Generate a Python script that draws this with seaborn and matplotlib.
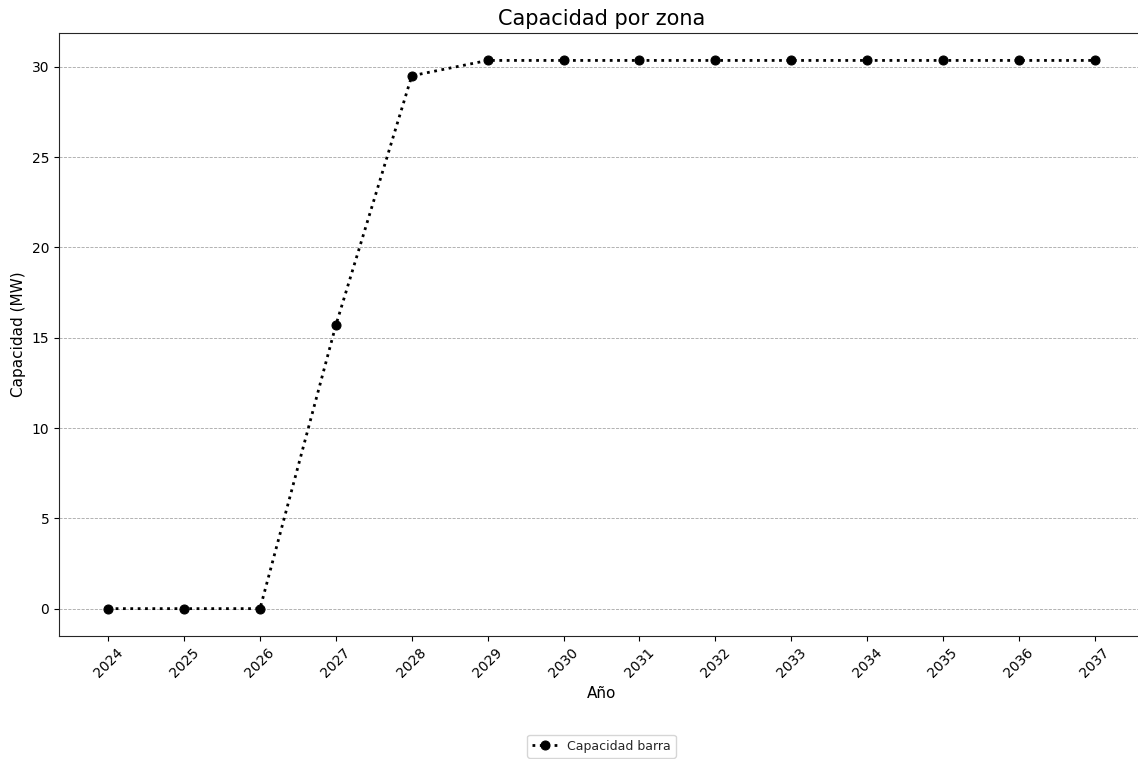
import matplotlib
matplotlib.use("Agg")
import matplotlib.pyplot as plt
import seaborn as sns
import pandas as pd

anios = [2024, 2025, 2026, 2027, 2028, 2029, 2030, 2031, 2032, 2033, 2034, 2035, 2036, 2037]
capacidad = [0, 0, 0, 15.7, 29.5, 30.35, 30.35, 30.35, 30.35, 30.35, 30.35, 30.35, 30.35, 30.35]

df = pd.DataFrame({'Año': anios, 'Capacidad': capacidad})

sns.set_style('ticks')
plt.rcParams['font.family'] = ['DejaVu Sans']

fig, ax = plt.subplots(figsize=(11.38, 7.59), dpi=100)
sns.lineplot(data=df, x='Año', y='Capacidad', ax=ax, color='black',
             linestyle=':', linewidth=2, marker='o', markersize=6.5,
             markeredgecolor='black', label='Capacidad barra')

ax.set_title('Capacidad por zona', fontsize=15, color='black')
ax.set_xlabel('Año', fontsize=11, color='black')
ax.set_ylabel('Capacidad (MW)', fontsize=11, color='black')
ax.set_xticks(anios)
ax.set_xticklabels([str(a) for a in anios], rotation=45)
ax.tick_params(colors='black', labelcolor='black')
ax.grid(axis='y', linestyle='--', linewidth=0.6, color='gray', alpha=0.7)
ax.legend(loc='upper center', bbox_to_anchor=(0.5, -0.153), ncol=1, fontsize=9)

ax.set_position([0.0518, 0.162, 1.0053 - 0.0518, 0.9565 - 0.162])
plt.savefig('out.png', dpi=100)
